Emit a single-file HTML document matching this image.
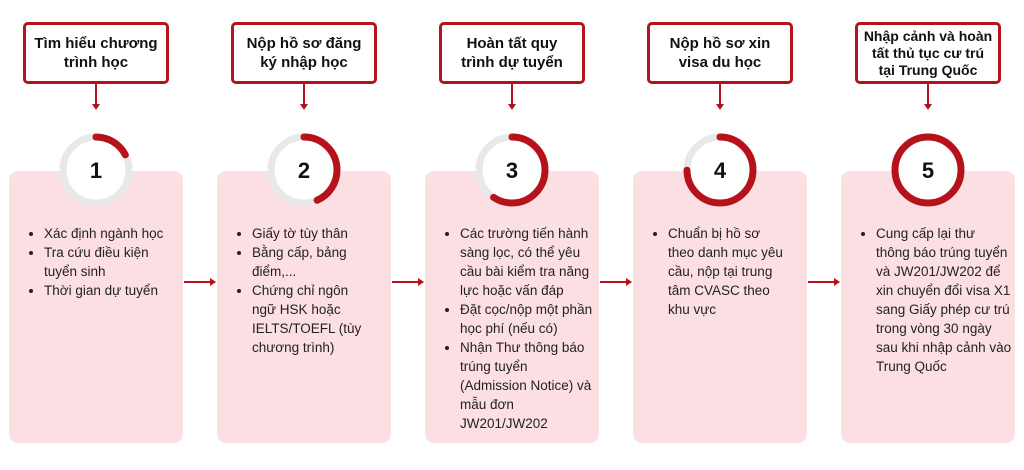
<!DOCTYPE html>
<html><head><meta charset="utf-8"><style>
body{margin:0;width:1024px;height:470px;background:#fff;position:relative;font-family:"Liberation Sans","DejaVu Sans",sans-serif;overflow:hidden}
.t{position:absolute;top:22px;width:140px;height:56px;border:3px solid #b5121b;border-radius:5px;display:flex;align-items:center;justify-content:center;text-align:center;font-weight:bold;font-size:15px;line-height:19px;color:#111;background:#fff}
.c{position:absolute;top:171px;width:174px;height:272px;background:#fcdfe3;border-radius:9px}
ul{position:absolute;margin:0;padding:0 0 0 24px;top:224px;font-size:13.5px;line-height:19px;color:#222;white-space:nowrap}
li{margin:0}
svg{position:absolute;left:0;top:0}
</style></head><body>
<div class="c" style="left:9px"></div>
<div class="c" style="left:217px"></div>
<div class="c" style="left:425px"></div>
<div class="c" style="left:633px"></div>
<div class="c" style="left:841px"></div>
<div class="t" style="left:23px">Tìm hiểu chương<br>trình học</div>
<div class="t" style="left:231px">Nộp hồ sơ đăng<br>ký nhập học</div>
<div class="t" style="left:439px">Hoàn tất quy<br>trình dự tuyển</div>
<div class="t" style="left:647px">Nộp hồ sơ xin<br>visa du học</div>
<div class="t" style="left:855px;font-size:14px;line-height:17px">Nhập cảnh và hoàn<br>tất thủ tục cư trú<br>tại Trung Quốc</div>
<svg width="1024" height="470">
<g fill="#b5121b" stroke="#b5121b" stroke-width="2">
<line x1="96" y1="84" x2="96" y2="104"/><polygon points="92,104 100,104 96,110" stroke="none"/>
<line x1="304" y1="84" x2="304" y2="104"/><polygon points="300,104 308,104 304,110" stroke="none"/>
<line x1="512" y1="84" x2="512" y2="104"/><polygon points="508,104 516,104 512,110" stroke="none"/>
<line x1="720" y1="84" x2="720" y2="104"/><polygon points="716,104 724,104 720,110" stroke="none"/>
<line x1="928" y1="84" x2="928" y2="104"/><polygon points="924,104 932,104 928,110" stroke="none"/>
<line x1="184" y1="282" x2="211" y2="282"/><polygon points="210,278 210,286 216,282" stroke="none"/>
<line x1="392" y1="282" x2="419" y2="282"/><polygon points="418,278 418,286 424,282" stroke="none"/>
<line x1="600" y1="282" x2="627" y2="282"/><polygon points="626,278 626,286 632,282" stroke="none"/>
<line x1="808" y1="282" x2="835" y2="282"/><polygon points="834,278 834,286 840,282" stroke="none"/>
</g>
<g fill="#fff" stroke="#e8e8e8" stroke-width="7">
<circle cx="96" cy="170" r="33"/><circle cx="304" cy="170" r="33"/><circle cx="512" cy="170" r="33"/><circle cx="720" cy="170" r="33"/><circle cx="928" cy="170" r="33"/>
</g>
<g fill="none" stroke="#b5121b" stroke-width="7" stroke-linecap="round">
<circle cx="96" cy="170" r="33" stroke-dasharray="36 300" transform="rotate(-90 96 170)"/>
<circle cx="304" cy="170" r="33" stroke-dasharray="90 300" transform="rotate(-90 304 170)"/>
<circle cx="512" cy="170" r="33" stroke-dasharray="123 300" transform="rotate(-90 512 170)"/>
<circle cx="720" cy="170" r="33" stroke-dasharray="155 300" transform="rotate(-90 720 170)"/>
<circle cx="928" cy="170" r="33"/>
</g>
<g font-family="Liberation Sans, sans-serif" font-weight="bold" font-size="22" text-anchor="middle" fill="#111">
<text x="96" y="178">1</text><text x="304" y="178">2</text><text x="512" y="178">3</text><text x="720" y="178">4</text><text x="928" y="178">5</text>
</g>
</svg>
<ul style="left:20px"><li>Xác định ngành học</li><li>Tra cứu điều kiện<br>tuyển sinh</li><li>Thời gian dự tuyển</li></ul>
<ul style="left:228px"><li>Giấy tờ tùy thân</li><li>Bằng cấp, bảng<br>điểm,...</li><li>Chứng chỉ ngôn<br>ngữ HSK hoặc<br>IELTS/TOEFL (tùy<br>chương trình)</li></ul>
<ul style="left:436px"><li>Các trường tiến hành<br>sàng lọc, có thể yêu<br>cầu bài kiểm tra năng<br>lực hoặc vấn đáp</li><li>Đặt cọc/nộp một phần<br>học phí (nếu có)</li><li>Nhận Thư thông báo<br>trúng tuyển<br>(Admission Notice) và<br>mẫu đơn<br>JW201/JW202</li></ul>
<ul style="left:644px"><li>Chuẩn bị hồ sơ<br>theo danh mục yêu<br>cầu, nộp tại trung<br>tâm CVASC theo<br>khu vực</li></ul>
<ul style="left:852px"><li>Cung cấp lại thư<br>thông báo trúng tuyển<br>và JW201/JW202 để<br>xin chuyển đổi visa X1<br>sang Giấy phép cư trú<br>trong vòng 30 ngày<br>sau khi nhập cảnh vào<br>Trung Quốc</li></ul>
</body></html>
